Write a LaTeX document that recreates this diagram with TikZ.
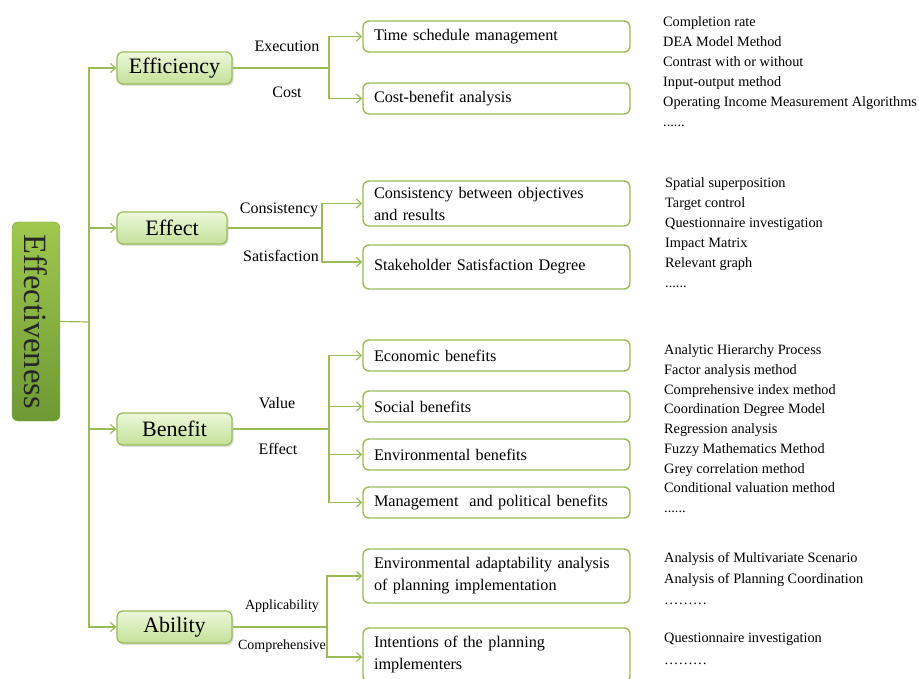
\documentclass[tikz,border=0pt]{standalone}
\usepackage{fontspec}
\setmainfont{Liberation Serif}
\usepackage{graphicx}
\usetikzlibrary{positioning}
\usetikzlibrary{arrows.meta}
\usetikzlibrary{shadows}
\definecolor{lgreen}{HTML}{9BBB59}
\definecolor{rtop}{HTML}{9FC84E}
\definecolor{rbot}{HTML}{6E9934}
\definecolor{ttop}{HTML}{EDF7DA}
\definecolor{tbot}{HTML}{C4E199}
\newcommand{\sixdots}{......}
\newcommand{\ninedots}{………}
\tikzset{
    rootnode/.style = {rounded corners=6pt, draw=rbot!90, top color=rtop, bottom color=rbot, minimum width=48pt, minimum height=199pt, inner sep=0pt, font=\fontsize{32.5}{34}\selectfont, text=black!85},
    topicnode/.style = {rounded corners=6pt, line width=1.3pt, draw=lgreen, top color=ttop, bottom color=tbot, minimum width=115pt, minimum height=32pt, inner sep=0pt, font=\fontsize{22}{24}\selectfont, drop shadow={opacity=0.25, shadow xshift=1.5pt, shadow yshift=-2pt}},
    leafnode/.style = {rounded corners=6pt, line width=1.4pt, draw=lgreen, fill=white, minimum width=267pt, minimum height=31pt, text width=245pt, inner xsep=11pt, inner ysep=2pt, align=left, font=\fontsize{16.2}{22}\selectfont},
    labeltext/.style = {inner sep=0pt, font=\fontsize{16}{18}\selectfont},
    labelsmall/.style = {inner sep=0pt, font=\fontsize{14}{16}\selectfont},
    listtext/.style = {anchor=west, inner sep=0pt, font=\fontsize{14.3}{16}\selectfont, text height=10pt, text depth=3pt},
    edgen/.style = {-, line width=1.2pt, lgreen},
    edgea/.style = {-{Straight Barb[length=5pt,width=9pt]}, line width=1.2pt, lgreen}
}
\begin{document}
\begin{tikzpicture}[x=1pt, y=-1pt]
\clip (0,0) rectangle (919,679);
% root and topics
\node[rootnode] (root) at (36,321.5) {\rotatebox{-90}{Effectiveness}};
\node[topicnode] (eff) at (174.5,68) {Efficiency};
\node[topicnode, minimum width=110pt] (efct) at (172,228) {Effect};
\node[topicnode] (ben) at (174.5,429) {Benefit};
\node[topicnode] (abi) at (174.5,627) {Ability};
% leaves
\node[leafnode] (tsm) at (496.5,36.5) {Time schedule management};
\node[leafnode] (cba) at (496.5,98.5) {Cost-benefit analysis};
\node[leafnode, minimum height=45pt] (cons) at (496.5,203.5) {Consistency between objectives\\and results};
\node[leafnode, minimum height=44pt] (ssd) at (496.5,267) {Stakeholder Satisfaction Degree};
\node[leafnode] (eco) at (496.5,355.5) {Economic benefits};
\node[leafnode] (soc) at (496.5,406.5) {Social benefits};
\node[leafnode] (env) at (496.5,454.5) {Environmental benefits};
\node[leafnode] (man) at (496.5,502.5) {Management\ \ and political benefits};
\node[leafnode, minimum height=54pt] (ada) at (496.5,576) {Environmental adaptability analysis\\of planning implementation};
\node[leafnode, minimum height=54pt] (inte) at (496.5,655) {Intentions of the planning\\implementers};
% branch labels
\node[labeltext] (lexe) at (287,46) {Execution};
\node[labeltext] (lcost) at (287,92) {Cost};
\node[labeltext] (lcons) at (279,210) {Consistency};
\node[labeltext] (lsat) at (281,256) {Satisfaction};
\node[labeltext] (lval) at (277,403) {Value};
\node[labeltext] (leff) at (278,449) {Effect};
\node[labelsmall] (lapp) at (282,606) {Applicability};
\node[labelsmall] (lcomp) at (282,646) {Comprehensive};
% method lists
\foreach \t [count=\i] in {Completion rate, DEA Model Method, Contrast with or without, Input-output method, Operating Income Measurement Algorithms, \sixdots}
  \node[listtext] (ma\i) at (663,{23+20*(\i-1)}) {\t};
\foreach \t [count=\i] in {Spatial superposition, Target control, Questionnaire investigation, Impact Matrix, Relevant graph, \sixdots}
  \node[listtext] (mb\i) at (665,{184+20*(\i-1)}) {\t};
\foreach \t [count=\i] in {Analytic Hierarchy Process, Factor analysis method, Comprehensive index method, Coordination Degree Model, Regression analysis, Fuzzy Mathematics Method, Grey correlation method, Conditional valuation method, \sixdots}
  \node[listtext] (mc\i) at (664,{351+19.75*(\i-1)}) {\t};
\foreach \t [count=\i] in {Analysis of Multivariate\ Scenario, Analysis of Planning Coordination, \ninedots}
  \node[listtext] (md\i) at (664,{559+21*(\i-1)}) {\t};
\foreach \t [count=\i] in {Questionnaire investigation, \ninedots}
  \node[listtext] (me\i) at (664,{639+22*(\i-1)}) {\t};
% trunk
\coordinate (trunk) at (89,322);
\coordinate (b1) at (329,68);
\coordinate (b2) at (322,228);
\coordinate (b3) at (329,429);
\coordinate (b4) at (327,627);
\draw[edgen] (root.east) -- (trunk);
\draw[edgea] (trunk) |- (eff.west);
\draw[edgea] (trunk) |- (efct.west);
\draw[edgea] (trunk) |- (ben.west);
\draw[edgea] (trunk) |- (abi.west);
% branches
\draw[edgen] (eff.east) -- (b1);
\draw[edgea] (b1) |- (tsm.west);
\draw[edgea] (b1) |- (cba.west);
\draw[edgen] (efct.east) -- (b2);
\draw[edgea] (b2) |- (cons.west);
\draw[edgea] (b2) |- ([yshift=5pt]ssd.west);
\draw[edgen] (ben.east) -- (b3);
\draw[edgea] (b3) |- (eco.west);
\draw[edgea] (b3) |- (soc.west);
\draw[edgea] (b3) |- (env.west);
\draw[edgea] (b3) |- (man.west);
\draw[edgen] (abi.east) -- (b4);
\draw[edgea] (b4) |- (ada.west);
\draw[edgea] (b4) |- ([yshift=-2pt]inte.west);
\end{tikzpicture}
\end{document}
